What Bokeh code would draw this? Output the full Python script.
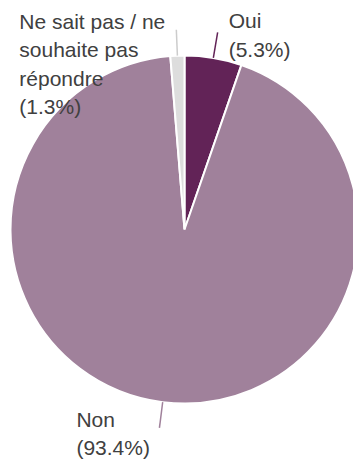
import math
from bokeh.plotting import figure
from bokeh.models import Range1d, ColumnDataSource
from bokeh.core.properties import value
from bokeh.embed import file_html
from bokeh.resources import INLINE

# ---- data ----
categories = ["Oui", "Non", "Ne sait pas / ne\nsouhaite pas\nrépondre"]
percents = [5.3, 93.4, 1.3]
colors = ["#622357", "#A0819B", "#DDDDDD"]
leader_colors = ["#622357", "#A0819B", "#CCCCCC"]

# ---- layout (page pixels) ----
W, H = 353, 459
PAGE_H = 459
cx, cy_page = 184, 229
R = 174
R_OUT = 200
lbl_dx = [11, -83, -157]     # text left edge relative to leader end
lbl_dy = [-4, -1, -1]        # first baseline relative to leader end (page y)
FS = 21

cy = PAGE_H - cy_page

p = figure(width=W, height=H, output_backend="svg", toolbar_location=None,
           x_range=Range1d(0, W), y_range=Range1d(0, H),
           min_border=0, outline_line_color=None)
p.axis.visible = False
p.grid.visible = False
p.background_fill_color = "white"
p.border_fill_color = "white"

total = sum(percents)
starts, ends, mids = [], [], []
cum = 0.0
for v in percents:
    a0 = math.pi / 2 - 2 * math.pi * cum / total
    cum += v
    a1 = math.pi / 2 - 2 * math.pi * cum / total
    starts.append(a0)
    ends.append(a1)
    mids.append((a0 + a1) / 2)

src = ColumnDataSource(dict(x=[cx] * 3, y=[cy] * 3, start=starts, end=ends, color=colors))
p.wedge(x="x", y="y", radius=R, start_angle="start", end_angle="end", direction="clock",
        fill_color="color", line_color="white", line_width=2, source=src)

x0 = [cx + R * math.cos(a) for a in mids]
y0 = [cy + R * math.sin(a) for a in mids]
x1 = [cx + R_OUT * math.cos(a) for a in mids]
y1 = [cy + R_OUT * math.sin(a) for a in mids]
p.segment(x0=x0, y0=y0, x1=x1, y1=y1, line_color=leader_colors, line_width=1.5)

labels = [f"{c}\n({v:.1f}%)" for c, v in zip(categories, percents)]
tx = [x1[i] + lbl_dx[i] for i in range(3)]
ty = [y1[i] - lbl_dy[i] + 19 for i in range(3)]
p.text(x=tx, y=ty, text=labels, text_font=value("Liberation Sans"),
       text_font_size=f"{FS}px", text_color="#404040", text_align="left",
       text_baseline="top", text_line_height=1.24)

open("out.html", "w").write(file_html(p, INLINE))
